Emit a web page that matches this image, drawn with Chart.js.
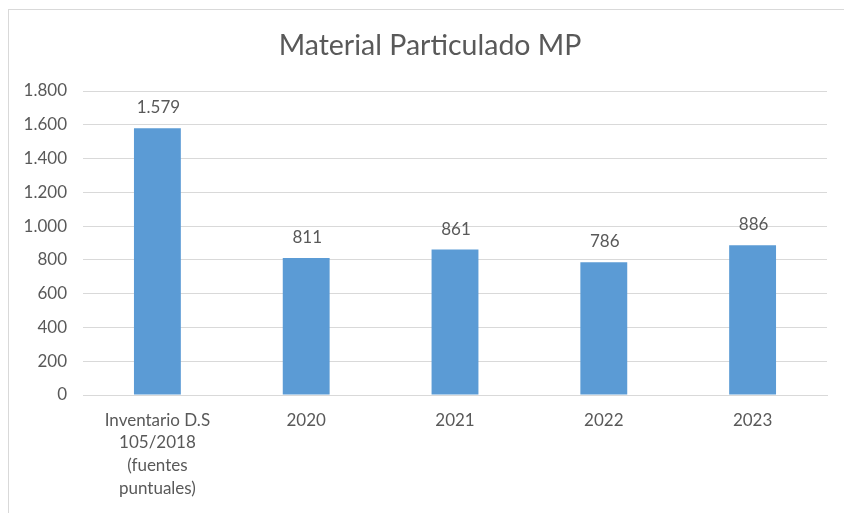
<!DOCTYPE html>
<html>
<head>
<meta charset="utf-8">
<script src="https://cdn.jsdelivr.net/npm/chart.js@4"></script>
<style>
    html, body { margin: 0; padding: 0; background: #fff; overflow: hidden; }
    #frame {
        position: absolute; left: 8px; top: 9px;
        width: 836px; height: 504px;
        border-top: 1px solid #d9d9d9; border-left: 1px solid #d9d9d9;
    }
    #chMP { display: block; }
</style>
</head>
<body>
<div id="frame"><canvas id="chMP" width="835" height="503"></canvas></div>
<script>
// Material Particulado MP - emisiones por periodo

const categories = [
    ['Inventario D.S', '105/2018', '(fuentes', 'puntuales)'],
    '2020', '2021', '2022', '2023'
];
const values = [1579, 811, 861, 786, 886];
const yTicks = [0, 200, 400, 600, 800, 1000, 1200, 1400, 1600, 1800];
const chartTitle = 'Material Particulado MP';

const txtColor = '#595959';
const fontFam = 'Lato, "Open Sans", sans-serif';

// miles con punto: 1.579
function fmtNum(v) {
    return String(v).replace(/\B(?=(\d{3})+(?!\d))/g, '.');
}

// titulo centrado sobre todo el recuadro del grafico
const boxTitle = {
    id: 'boxTitle',
    afterDraw(chart) {
        const ctx = chart.ctx;
        ctx.save();
        ctx.font = '28.5px ' + fontFam;
        ctx.fillStyle = txtColor;
        ctx.textAlign = 'center';
        ctx.textBaseline = 'middle';
        ctx.fillText(chartTitle, 421, 36);
        ctx.restore();
    }
};

// etiquetas de valor sobre cada barra
const valueLabels = {
    id: 'valueLabels',
    afterDatasetsDraw(chart) {
        const ctx = chart.ctx;
        const meta = chart.getDatasetMeta(0);
        ctx.save();
        ctx.font = '17px ' + fontFam;
        ctx.fillStyle = txtColor;
        ctx.textAlign = 'center';
        ctx.textBaseline = 'bottom';
        meta.data.forEach((bar, i) => {
            ctx.fillText(fmtNum(values[i]), bar.x + 1, bar.y - 12);
        });
        ctx.restore();
    }
};

new Chart(document.getElementById('chMP').getContext('2d'), {
    type: 'bar',
    data: {
        labels: categories,
        datasets: [{
            data: values,
            backgroundColor: '#5b9bd5',
            borderWidth: 0,
            barPercentage: 0.63,
            categoryPercentage: 0.5
        }]
    },
    options: {
        responsive: false,
        animation: false,
        layout: { padding: { left: 0, right: 17, top: 81, bottom: 0 } },
        scales: {
            x: {
                grid: { display: false, drawTicks: false },
                border: { color: '#d9d9d9', width: 1 },
                ticks: {
                    color: txtColor,
                    font: { family: fontFam, size: 17, lineHeight: 1.33 },
                    padding: 14,
                    maxRotation: 0,
                    autoSkip: false
                },
                afterFit(scale) { scale.height = 118; }
            },
            y: {
                min: 0,
                max: 1800,
                afterBuildTicks(scale) {
                    scale.ticks = yTicks.map(v => ({ value: v }));
                },
                grid: { color: '#d9d9d9', drawTicks: false },
                border: { display: false },
                ticks: {
                    color: txtColor,
                    font: { family: fontFam, size: 17 },
                    padding: 16,
                    callback: v => fmtNum(v)
                },
                afterFit(scale) { scale.width = 74; }
            }
        },
        plugins: {
            legend: { display: false },
            tooltip: { enabled: false },
            title: { display: false }
        }
    },
    plugins: [valueLabels, boxTitle]
});
</script>
</body>
</html>
